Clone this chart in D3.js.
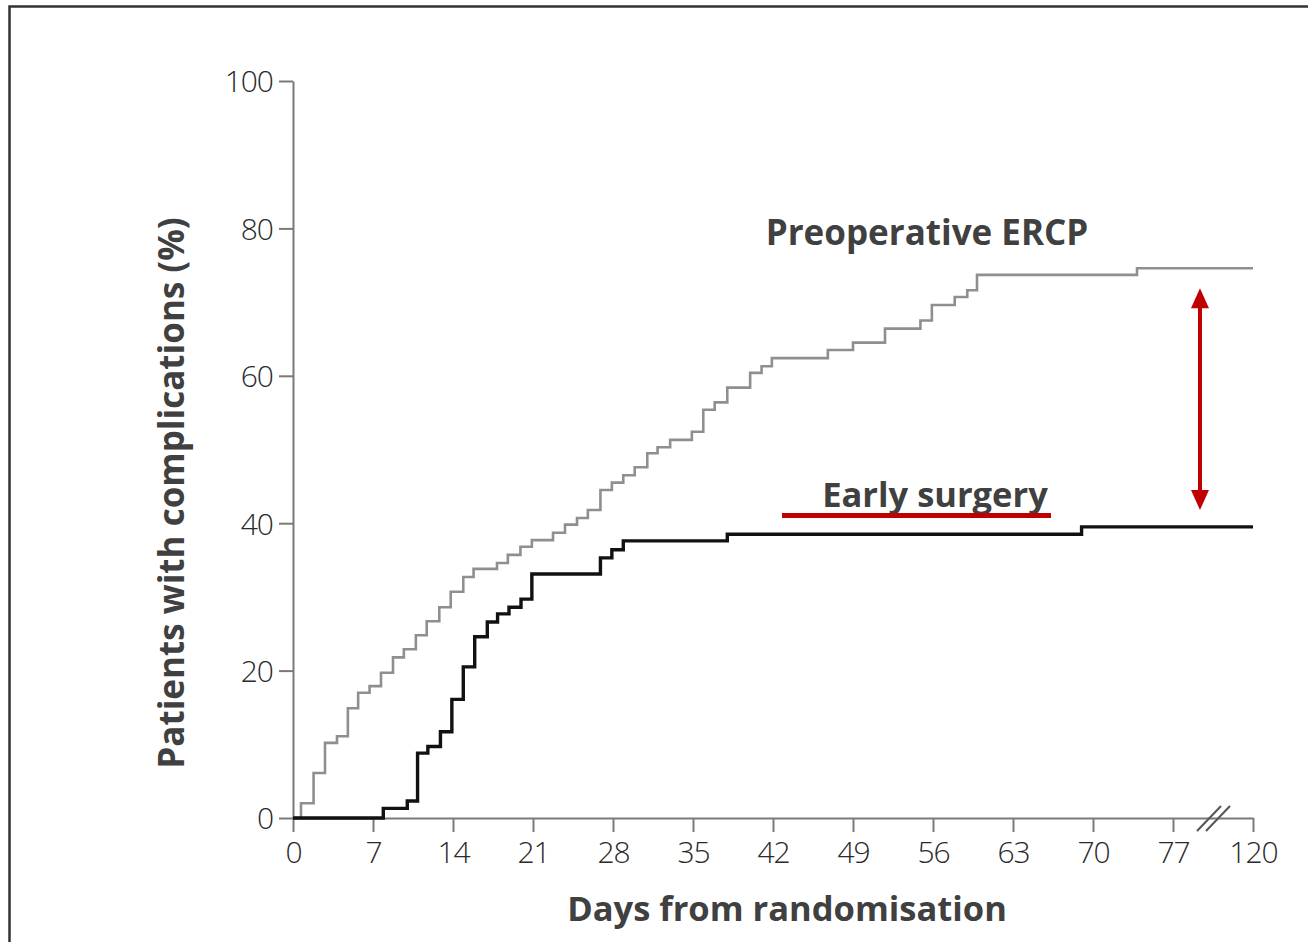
<!DOCTYPE html>
<html>
<head>
<meta charset="utf-8">
<script src="https://cdn.jsdelivr.net/npm/d3@7"></script>
<style>
  html, body { margin: 0; padding: 0; background: #fff; }
  svg { display: block; }
</style>
</head>
<body>
<svg id="chart" width="1308" height="942"></svg>
<script>
// ---- Data ----
const xTickValues = [0, 7, 14, 21, 28, 35, 42, 49, 56, 63, 70, 77, 120];
const yTickValues = [0, 20, 40, 60, 80, 100];

const ercpDays = [0, 0.7, 1.8, 2.8, 3.85, 4.8, 5.7, 6.7, 7.7, 8.75, 9.7, 10.75, 11.7, 12.8, 13.8, 14.9, 15.8, 17.85, 18.8, 19.9, 20.9, 22.75, 23.8, 24.85, 25.8, 26.9, 27.9, 28.9, 29.9, 31.0, 31.9, 33.0, 34.9, 35.9, 36.9, 38.0, 40.0, 41.0, 41.9, 46.8, 49.0, 51.8, 54.9, 55.9, 57.9, 59.0, 59.85, 73.85, 120];
const ercpPct  = [0, 2.0, 6.1, 10.2, 11.1, 14.9, 17.0, 17.9, 19.7, 21.8, 22.9, 24.8, 26.7, 28.6, 30.7, 32.7, 33.8, 34.6, 35.7, 36.8, 37.7, 38.7, 39.8, 40.7, 41.8, 44.5, 45.5, 46.5, 47.6, 49.5, 50.3, 51.3, 52.4, 55.4, 56.4, 58.4, 60.4, 61.3, 62.4, 63.5, 64.5, 66.4, 67.5, 69.6, 70.7, 71.6, 73.7, 74.6, 74.6];

const surgDays = [0, 7.9, 10.0, 10.9, 11.8, 12.9, 13.9, 14.9, 15.9, 17.0, 17.9, 18.9, 19.95, 20.9, 26.9, 27.9, 28.9, 38.0, 69.0, 120];
const surgPct  = [0, 1.3, 2.3, 8.8, 9.7, 11.7, 16.1, 20.5, 24.6, 26.6, 27.7, 28.6, 29.7, 33.1, 35.3, 36.4, 37.6, 38.5, 39.5, 39.5];

const seriesNames = ["Preoperative ERCP", "Early surgery"];
const xTitle = "Days from randomisation";
const yTitle = "Patients with complications (%)";

// ---- Layout ----
const svg = d3.select("#chart");
const x = d3.scaleLinear().domain([0, 77, 120]).range([293, 1173, 1253]);
const y = d3.scaleLinear().domain([0, 100]).range([818, 81]);

// frame
svg.append("rect")
  .attr("x", 9.5).attr("y", 6.5).attr("width", 1320).attr("height", 960)
  .attr("fill", "none").attr("stroke", "#333").attr("stroke-width", 2.5);

const axisColor = "#7a7a7a";
const tickFont = "'Open Sans', 'DejaVu Sans', sans-serif";

// x axis
const gx = svg.append("g").attr("transform", `translate(0,${y(0)})`)
  .call(d3.axisBottom(x).tickValues(xTickValues).tickSize(14).tickSizeOuter(0).tickPadding(10).tickFormat(d3.format("d")));
// y axis
const gy = svg.append("g").attr("transform", `translate(${x(0)},0)`)
  .call(d3.axisLeft(y).tickValues(yTickValues).tickSize(14).tickSizeOuter(0).tickPadding(6).tickFormat(d3.format("d")));

[gx, gy].forEach(g => {
  g.select(".domain").attr("stroke", axisColor).attr("stroke-width", 2);
  g.selectAll(".tick line").attr("stroke", axisColor).attr("stroke-width", 2);
  g.selectAll(".tick text").attr("fill", "#2a2a2a").attr("font-size", 30)
    .attr("font-family", tickFont).attr("font-weight", 300).attr("letter-spacing", "-1px");
});
gy.selectAll(".tick text").attr("dy", "0.36em");

// axis break marks
const bx = x(77) + (x(120) - x(77)) * 0.45;
[0, 9].forEach(off => {
  svg.append("line")
    .attr("x1", bx - 12 + off).attr("y1", y(0) + 13)
    .attr("x2", bx + 12 + off).attr("y2", y(0) - 12)
    .attr("stroke", "#555").attr("stroke-width", 2);
});

// step lines
const line = d3.line().curve(d3.curveStepAfter).x(d => x(d[0])).y(d => y(d[1]));
const ercp = ercpDays.map((d, i) => [d, ercpPct[i]]);
const surg = surgDays.map((d, i) => [d, surgPct[i]]);

svg.append("path").datum(ercp).attr("d", line)
  .attr("fill", "none").attr("stroke", "#8f8f8f").attr("stroke-width", 2.6);
svg.append("path").datum(surg).attr("d", line)
  .attr("fill", "none").attr("stroke", "#111").attr("stroke-width", 3.4);

// labels
const labelFont = "'Open Sans', 'DejaVu Sans', sans-serif";
svg.append("text").text(seriesNames[0])
  .attr("x", 927).attr("y", 245).attr("text-anchor", "middle")
  .attr("font-family", labelFont).attr("font-weight", 700).attr("font-size", 35)
  .attr("fill", "#404040");
svg.append("text").text(seriesNames[1])
  .attr("x", 935).attr("y", 507).attr("text-anchor", "middle")
  .attr("font-family", labelFont).attr("font-weight", 700).attr("font-size", 34.5)
  .attr("fill", "#404040");
// red underline
svg.append("rect").attr("x", 782).attr("y", 513).attr("width", 269).attr("height", 5)
  .attr("fill", "#c00000");

// red double arrow between final values
const ax = x(91.5);
const yTop = y(74.6) + 20, yBot = y(39.5) - 17;
svg.append("line").attr("x1", ax).attr("x2", ax).attr("y1", yTop + 15).attr("y2", yBot - 15)
  .attr("stroke", "#c00000").attr("stroke-width", 4);
svg.append("path").attr("d", `M${ax},${yTop} L${ax - 9},${yTop + 20} L${ax + 9},${yTop + 20} Z`).attr("fill", "#c00000");
svg.append("path").attr("d", `M${ax},${yBot} L${ax - 9},${yBot - 20} L${ax + 9},${yBot - 20} Z`).attr("fill", "#c00000");

// axis titles
svg.append("text").text(xTitle)
  .attr("x", 787).attr("y", 921).attr("text-anchor", "middle")
  .attr("font-family", labelFont).attr("font-weight", 700).attr("font-size", 34.5)
  .attr("fill", "#404040");
svg.append("text").text(yTitle)
  .attr("transform", `translate(184,493) rotate(-90)`).attr("text-anchor", "middle")
  .attr("font-family", labelFont).attr("font-weight", 700).attr("font-size", 35)
  .attr("fill", "#404040");
</script>
</body>
</html>
